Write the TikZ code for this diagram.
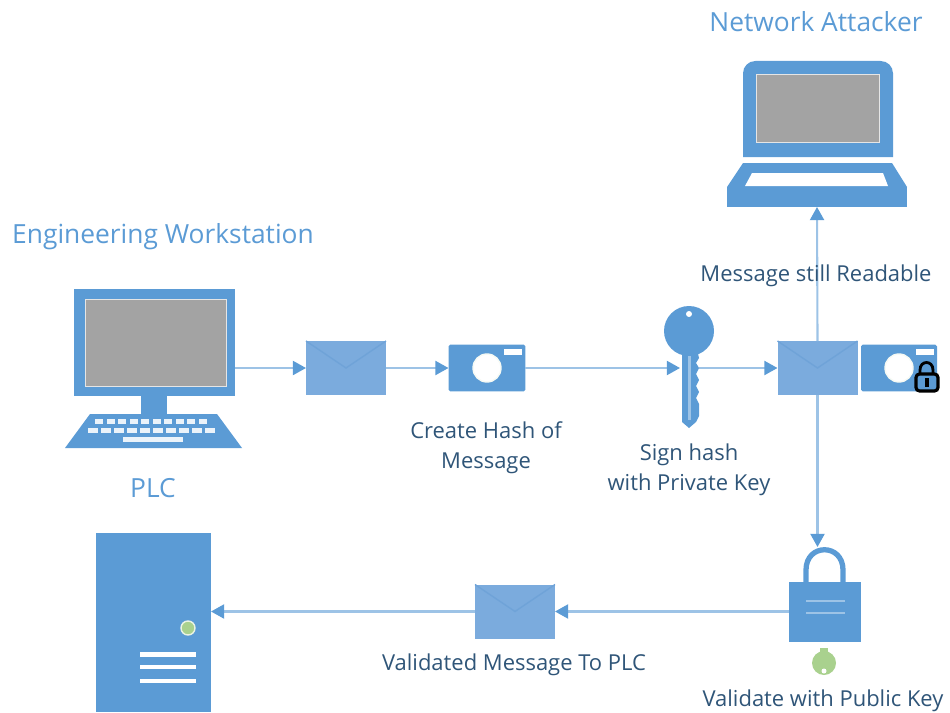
\documentclass[tikz,border=0pt]{standalone}
\usepackage{fontspec}
\setmainfont{Open Sans}
\usetikzlibrary{arrows.meta}

\definecolor{iconblue}{HTML}{5B9BD5}
\definecolor{envblue}{HTML}{7BABDD}
\definecolor{flapblue}{HTML}{6FA3D8}
\definecolor{wireblue}{HTML}{9DC3E6}
\definecolor{titleblue}{HTML}{5B9BD5}
\definecolor{labelblue}{HTML}{2F5578}
\definecolor{screengray}{HTML}{A3A3A3}
\definecolor{ledgreen}{HTML}{A9D18E}

\begin{document}
\begin{tikzpicture}[
            x = 0.02cm, y = -0.02cm, % one unit is one pixel of the drawing
            wire/.style = {draw = wireblue, line width = 1.2pt, -{Triangle[length=7.5pt, width=8pt, color=iconblue]}},
            iconbox/.style = {fill = iconblue, draw = none, inner sep = 0pt, outer sep = 0pt},
            envbox/.style = {fill = envblue, draw = none, inner sep = 0pt, outer sep = 0pt,
                minimum width = 1.6cm, minimum height = 1.08cm},
            cambox/.style = {iconbox, rounded corners = 1pt, minimum width = 1.54cm, minimum height = 0.94cm},
            screen/.style = {fill = screengray, draw = white!80!gray, line width = 0.5pt},
            title/.style = {text = titleblue, font = \fontsize{15}{18}\selectfont},
            caption/.style = {text = labelblue, font = \fontsize{12.5}{17}\selectfont, align = center}
        ]

        \useasboundingbox (0,0) rectangle (950,713);

        % workstation
        \node[iconbox, minimum width=3.24cm, minimum height=2.16cm] (monitor) at (154.5,342.5) {};
        \draw[screen] (85,299) rectangle (226,386);
        \fill[iconblue] (141,396) rectangle (167,414);
        \fill[iconblue] (90,414) -- (217,414) -- (242,448) -- (65,448) -- cycle;
        \foreach \i in {0,...,9} {
            \fill[white!88!iconblue] ({95+\i*11.5},419) rectangle ++(8,5);
            \fill[white!88!iconblue] ({88+\i*13},427.5) rectangle ++(10,5.5);
        }
        \fill[white!88!iconblue] (123,437) rectangle (183,442);

        % attacker laptop
        \fill[iconblue, rounded corners=7pt] (743,157) [sharp corners] -- (743,120) [rounded corners=7pt] -- (743,61) -- (893,61) -- (893,120) [sharp corners] -- (893,157) -- cycle;
        \draw[screen] (756,74) rectangle (879,142);
        \fill[iconblue] (743,163) -- (892,163) -- (907,187) -- (727,187) -- cycle;
        \node[iconbox, minimum width=3.6cm, minimum height=0.4cm] (laptop) at (817,197) {};
        \fill[white] (752,173) -- (883,173) -- (888,186) -- (745,186) -- cycle;

        % messages and hashes
        \node[envbox] (envA) at (346,368) {};
        \node[envbox] (envB) at (817.5,368) {};
        \node[envbox] (envC) at (515,611.5) {};
        \node[cambox] (camA) at (487,368) {};
        \node[cambox, minimum width=1.52cm] (camB) at (899,368) {};
        \foreach \envname in {envA,envB,envC}
            \draw[flapblue, line width=0.8pt] (\envname.north west) -- (\envname.center) -- (\envname.north east);
        \foreach \camname in {camA,camB} {
            \fill[white, draw=white!90!ledgreen, line width=0.8pt] (\camname.center) circle (14);
            \fill[white] ([xshift=0.34cm,yshift=0.38cm]\camname.center) rectangle ++(18,6);
        }

        % key, its centre sits on the wire
        \coordinate (keyL) at (680,368);
        \coordinate (keyR) at (699,368);
        \coordinate (shackle) at (825,547);

        % plc
        \node[iconbox, minimum width=2.3cm, minimum height=3.58cm] (server) at (153.5,622.5) {};
        \fill[ledgreen, draw=white!75!ledgreen, line width=0.8pt] (188,628) circle (7);
        \fill[white] (140,652) rectangle (196,657);
        \fill[white] (140,665) rectangle (196,669);
        \fill[white] (140,679) rectangle (196,683);

        % lock
        \node[iconbox, minimum width=1.44cm, minimum height=1.2cm] (lockbody) at (825,612) {};
        \draw[iconblue, line width=3pt] (806,582) -- (806,570) .. controls (806,543) and (843,543) .. (843,570) -- (843,582);
        \draw[wireblue, line width=1pt] (806,601) -- (845,601);
        \draw[wireblue, line width=1pt] (806,613) -- (845,613);

        \fill[ledgreen] (824,663) circle (12);
        \fill[ledgreen] (820,648) rectangle (828,654);
        \fill[white] (824,671) circle (2.5);

        % connectors
        \draw[wire] (envA.west -| monitor.east) -- (envA.west);
        \draw[wire] (envA.east) -- (camA.west);
        \draw[wire] (camA.east) -- (keyL);
        \draw[wire] (keyR) -- (envB.west);
        \draw[wire] (envB.north) -- (laptop.south);
        \draw[wire] (envB.south) -- (envB.south |- shackle);
        \draw[wire] (lockbody.west |- envC.east) -- (envC.east);
        \draw[wire] (envC.west) -- (envC.west -| server.east);

        % key drawn over the wire
        \fill[iconblue] (689,331) circle (25);
        \fill[white] (689,314) circle (3);
        \fill[iconblue] (682,350) -- (697,350) -- (699,358) -- (696,363) -- (699,368) -- (696,374) -- (699,380)
            -- (696,386) -- (699,392) -- (696,398) -- (699,404) -- (699,416) -- (696,422) -- (689,428) -- (682,422) -- cycle;
        \fill[wireblue] (688,356) rectangle (691,420);

        % padlock on the second hash
        \draw[black, line width=1.6pt] (920,374) -- (920,370) .. controls (920,360) and (933,360) .. (933,370) -- (933,374);
        \fill[iconblue, draw=black, line width=1.8pt, rounded corners=2pt] (916,374) rectangle (938,391);
        \fill[black] (925,378) rectangle (929,387);

        \node[title] (attackerlabel) at (816,22) {Network Attacker};
        \node[title] (workstationlabel) at (163,236.5) {Engineering Workstation};
        \node[title] (plclabel) at (153,488) {PLC};

        \node[caption] (readablelabel) at (816,276) {Message still Readable};
        \node[caption] (hashlabel) at (486,447.5) {Create Hash of\\Message};
        \node[caption] (signlabel) at (689,469.5) {Sign hash\\with Private Key};
        \node[caption] (validatedlabel) at (514,665) {Validated Message To PLC};
        \node[caption] (publiclabel) at (823,701) {Validate with Public Key};
    \end{tikzpicture}
\end{document}
